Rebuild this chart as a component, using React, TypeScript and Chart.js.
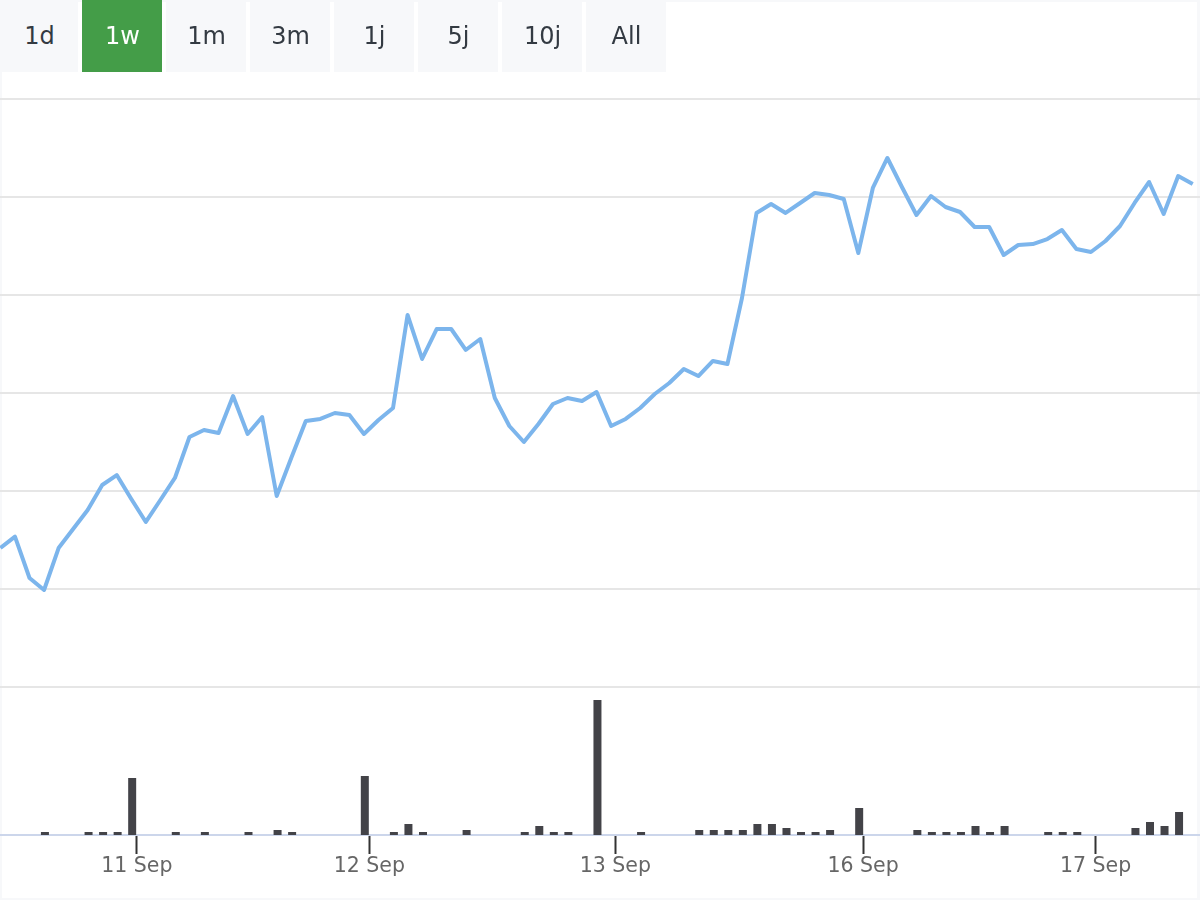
import React, { useEffect, useRef } from 'react';
import Chart from 'chart.js/auto';

const ranges = ['1d', '1w', '1m', '3m', '1j', '5j', '10j', 'All'];
const activeRange = '1w';

const tickIndexes = [9.38, 25.37, 42.29, 59.33, 75.32];
const tickLabels = ['11 Sep', '12 Sep', '13 Sep', '16 Sep', '17 Sep'];

const priceTicks = [0, 10, 20, 30, 40, 50, 60];

const prices = [
  14.18, 15.34, 11.12, 9.9, 14.18, 16.12, 18.06, 20.61, 21.63, 19.18,
  16.84, 19.08, 21.33, 25.51, 26.22, 25.92, 29.69, 25.82, 27.55, 19.49,
  23.37, 27.14, 27.35, 27.96, 27.76, 25.82, 27.24, 28.47, 37.96, 33.47,
  36.53, 36.53, 34.39, 35.51, 29.49, 26.63, 25.0, 26.84, 28.88, 29.49,
  29.18, 30.1, 26.63, 27.35, 28.47, 29.9, 31.02, 32.45, 31.73, 33.27,
  32.96, 39.69, 48.37, 49.29, 48.37, 49.39, 50.41, 50.2, 49.8, 44.29,
  50.92, 53.98, 51.02, 48.16, 50.1, 48.98, 48.47, 46.94, 46.94, 44.08,
  45.1, 45.2, 45.71, 46.63, 44.69, 44.39, 45.51, 47.04, 49.39, 51.53,
  48.27, 52.14, 51.33,
];

const volumeIndexes = [
  3, 6, 7, 8, 9, 12, 14, 17, 19, 20, 25, 27, 28, 29, 32, 36, 37, 38, 39, 41,
  44, 48, 49, 50, 51, 52, 53, 54, 55, 56, 57, 59, 63, 64, 65, 66, 67, 68, 69,
  72, 73, 74, 78, 79, 80, 81,
];
const volumes = [
  1.5, 1.5, 1.5, 1.5, 28.5, 1.5, 1.5, 1.5, 2.5, 1.5, 29.5, 1.5, 5.5, 1.5, 2.5,
  1.5, 4.5, 1.5, 1.5, 67.5, 1.5, 2.5, 2.5, 2.5, 2.5, 5.5, 5.5, 3.5, 1.5, 1.5,
  2.5, 13.5, 2.5, 1.5, 1.5, 1.5, 4.5, 1.5, 4.5, 1.5, 1.5, 1.5, 3.5, 6.5, 4.5,
  11.5,
];

// bars sit about a pixel right of the line points in the original
const barShift = 0.06;

const App = () => {
  const canvasRef = useRef<HTMLCanvasElement | null>(null);

  useEffect(() => {
    document.body.style.margin = '0';
    const ctx = canvasRef.current?.getContext('2d') as any;
    const chart = new Chart(ctx, {
      data: {
        datasets: [
          {
            type: 'line',
            data: prices.map((y, i) => ({ x: i, y })),
            yAxisID: 'price',
            borderColor: '#7cb5ec',
            borderWidth: 4,
            pointRadius: 0,
            tension: 0,
            borderJoinStyle: 'round',
            clip: false,
          },
          {
            type: 'bar',
            data: volumes.map((y, i) => ({ x: volumeIndexes[i] + barShift, y })),
            yAxisID: 'volume',
            backgroundColor: '#434348',
            barThickness: 8,
            inflateAmount: 0,
          },
        ],
      } as any,
      options: {
        responsive: false,
        animation: false,
        events: [],
        layout: { padding: { top: 99 } },
        scales: {
          x: {
            type: 'linear',
            min: -0.03,
            max: 82.5,
            offset: false,
            z: 1,
            afterBuildTicks: (scale: any) => {
              scale.ticks = tickIndexes.map(value => ({ value }));
            },
            afterFit: (scale: any) => {
              scale.height = 65;
              scale.paddingLeft = 0;
              scale.paddingRight = 0;
            },
            grid: {
              offset: false,
              drawOnChartArea: false,
              drawTicks: true,
              tickLength: 19,
              tickWidth: 2,
              tickColor: '#333333',
            },
            border: { display: true, color: '#ccd6eb', width: 2 },
            ticks: {
              autoSkip: false,
              maxRotation: 0,
              padding: 0,
              color: '#666666',
              font: { family: 'DejaVu Sans', size: 20.5 },
              callback: (value: any) => tickLabels[tickIndexes.indexOf(value)],
            },
          },
          price: {
            type: 'linear',
            stack: 'panels',
            stackWeight: 588,
            weight: 2,
            min: 0,
            max: 60,
            afterBuildTicks: (scale: any) => {
              scale.ticks = priceTicks.map(value => ({ value }));
            },
            afterFit: (scale: any) => {
              scale.width = 0;
              scale.paddingTop = 0;
              scale.paddingBottom = 0;
            },
            grid: { color: '#e6e6e6', lineWidth: 2, drawTicks: false },
            border: { display: false },
            ticks: { display: false },
          },
          volume: {
            type: 'linear',
            stack: 'panels',
            stackWeight: 148,
            weight: 1,
            min: 0,
            max: 74,
            afterFit: (scale: any) => {
              scale.width = 0;
              scale.paddingTop = 0;
              scale.paddingBottom = 0;
            },
            grid: { display: false },
            border: { display: false },
            ticks: { display: false },
          },
        },
        plugins: {
          legend: { display: false },
          tooltip: { enabled: false },
        },
      },
    });

    return () => {
      chart.destroy();
    };
  }, [canvasRef]);

  return (
    <div style={{ position: 'relative', width: 1200, height: 900, boxSizing: 'border-box', border: '2px solid #f7f8fa', borderRightWidth: 3, background: '#fff' }}>
      <canvas ref={canvasRef} width={1200} height={900} style={{ position: 'absolute', left: -2, top: -2 }} />
      {ranges.map((r, i) => (
        <div
          key={r}
          style={{
            position: 'absolute',
            left: i === 0 ? -2 : 84 * i - 4,
            top: r === activeRange ? -2 : 0,
            width: i === 0 ? 78 : 80,
            height: r === activeRange ? 72 : 70,
            lineHeight: r === activeRange ? '72px' : '68px',
            textAlign: 'center',
            paddingLeft: 1,
            boxSizing: 'border-box',
            background: r === activeRange ? '#449d48' : '#f7f8fa',
            color: r === activeRange ? '#ffffff' : '#333a42',
            fontFamily: 'DejaVu Sans',
            fontSize: 24,
          }}
        >
          {r}
        </div>
      ))}
    </div>
  );
};

export default App;
